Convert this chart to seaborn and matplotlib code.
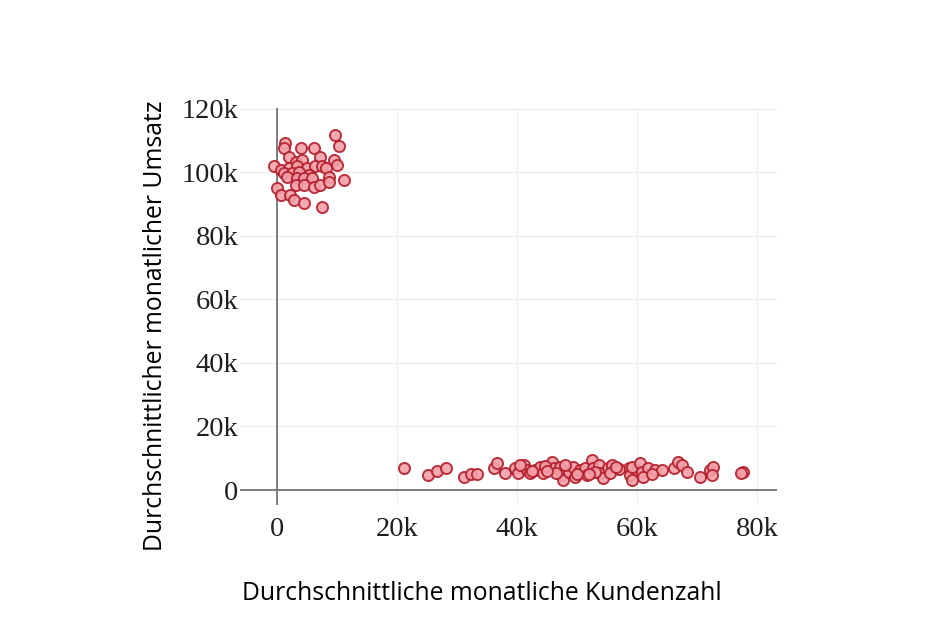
import numpy as np
import pandas as pd
import matplotlib
matplotlib.use("Agg")
import matplotlib.pyplot as plt
import seaborn as sns

# Data (in thousands)
top_x = [9.7, 10.3, 1.4, 1.1, 4.0, 6.2, 2.0, 3.1, 4.2, 7.2, 9.5, 10.0, -0.5, 0.6, 2.0,
         3.3, 5.0, 6.4, 7.5, 8.1, 1.1, 2.5, 3.6, 5.3, 1.7, 3.3, 4.5, 5.8, 8.6, 11.1,
         3.1, 4.5, 6.1, 7.2, 8.6, 0.0, 0.6, 2.2, 2.8, 4.5, 7.5]
top_y = [111.8, 108.1, 109.1, 107.6, 107.6, 107.7, 104.9, 103.3, 103.9, 104.9, 103.9, 102.3,
         101.8, 100.7, 101.3, 101.8, 101.3, 101.8, 102.1, 101.3, 99.7, 99.7, 100.2, 99.1,
         98.6, 98.1, 98.1, 98.1, 98.6, 97.6, 96.0, 96.0, 95.5, 96.0, 97.0, 95.0, 92.9,
         92.9, 91.3, 90.2, 89.2]
bot_x = [21.2, 25.2, 26.6, 28.1, 31.2, 32.3, 33.4, 36.1, 36.7, 38.0, 39.7, 40.2, 41.1,
         41.6, 42.2, 43.0, 43.8, 44.4, 45.8, 46.1, 47.2, 47.5, 47.7, 48.6, 49.4, 49.7,
         50.5, 51.3, 51.6, 52.5, 52.7, 53.6, 53.8, 54.4, 55.2, 55.8, 55.5, 58.6, 58.8,
         60.0, 59.1, 60.5, 60.8, 61.9, 63.0, 64.1, 66.1, 66.9, 67.5, 68.3, 70.5, 72.2,
         72.7, 72.5, 77.7, 44.6, 46.5, 50.0, 53.0, 57.0, 61.0, 62.5, 48.0, 52.0, 45.0,
         59.2, 42.5, 56.5, 40.5, 77.3]
bot_y = [6.8, 4.7, 6.0, 6.8, 4.2, 4.9, 4.9, 7.0, 8.4, 5.3, 6.8, 5.3, 7.9, 6.3, 5.3, 6.3,
         7.3, 5.3, 8.9, 6.8, 7.3, 4.7, 3.1, 5.8, 7.3, 4.2, 6.3, 6.8, 4.7, 9.4, 6.8, 7.9,
         5.3, 3.7, 6.8, 7.9, 5.3, 6.8, 4.7, 6.3, 7.3, 8.4, 5.8, 6.8, 6.3, 6.3, 6.8, 8.9,
         7.9, 5.8, 4.2, 6.3, 7.3, 4.7, 5.8, 7.5, 5.5, 5.0, 5.8, 6.5, 4.0, 5.0, 7.8, 5.2,
         6.0, 3.3, 6.0, 7.2, 7.8, 5.3]

x_ticks = [0, 20, 40, 60, 80]
x_labels = ["0", "20k", "40k", "60k", "80k"]
y_ticks = [0, 20, 40, 60, 80, 100, 120]
y_labels = ["0", "20k", "40k", "60k", "80k", "100k", "120k"]

df = pd.DataFrame({
    "kunden": [v * 1000 for v in top_x + bot_x],
    "umsatz": [v * 1000 for v in top_y + bot_y],
})

sns.set_theme(style="white")
fig = plt.figure(figsize=(9.31, 6.22), dpi=100)
ax = fig.add_axes([240 / 931, 1 - 505 / 622, (777 - 240) / 931, (505 - 108) / 622])

sns.scatterplot(data=df, x="kunden", y="umsatz", ax=ax, s=64,
                color="#f4a0a9", edgecolor="#b31f2c", linewidth=1.4, alpha=0.9, zorder=3)

ax.set_xlim(-6170, 83330)
ax.set_ylim(-4700, 120200)
ax.set_xticks([t * 1000 for t in x_ticks])
ax.set_xticklabels(x_labels)
ax.set_yticks([t * 1000 for t in y_ticks])
ax.set_yticklabels(y_labels)

for s in ax.spines.values():
    s.set_visible(False)
ax.grid(True, color="#eeeeee", linewidth=1.0, zorder=0)
ax.set_axisbelow(True)
ax.axhline(0, color="#747474", linewidth=1.3, zorder=2)
ax.axvline(0, color="#747474", linewidth=1.3, zorder=2)

ax.tick_params(axis="both", length=0, labelsize=20.5, colors="#1e1e1e")
ax.tick_params(axis="x", pad=9)
ax.tick_params(axis="y", pad=1)
for lab in ax.get_xticklabels() + ax.get_yticklabels():
    lab.set_family(["Liberation Serif", "DejaVu Serif"])

ax.set_xlabel("")
ax.set_ylabel("")
fig.text(482 / 931, 1 - 594 / 622, "Durchschnittliche monatliche Kundenzahl",
         ha="center", va="center", fontsize=17.8, family=["Open Sans", "DejaVu Sans"], color="black")
fig.text(155 / 931, 1 - 326 / 622, "Durchschnittlicher monatlicher Umsatz",
         ha="center", va="center", rotation=90, fontsize=17.8,
         family=["Open Sans", "DejaVu Sans"], color="black")

fig.savefig("out.png", dpi=100)
